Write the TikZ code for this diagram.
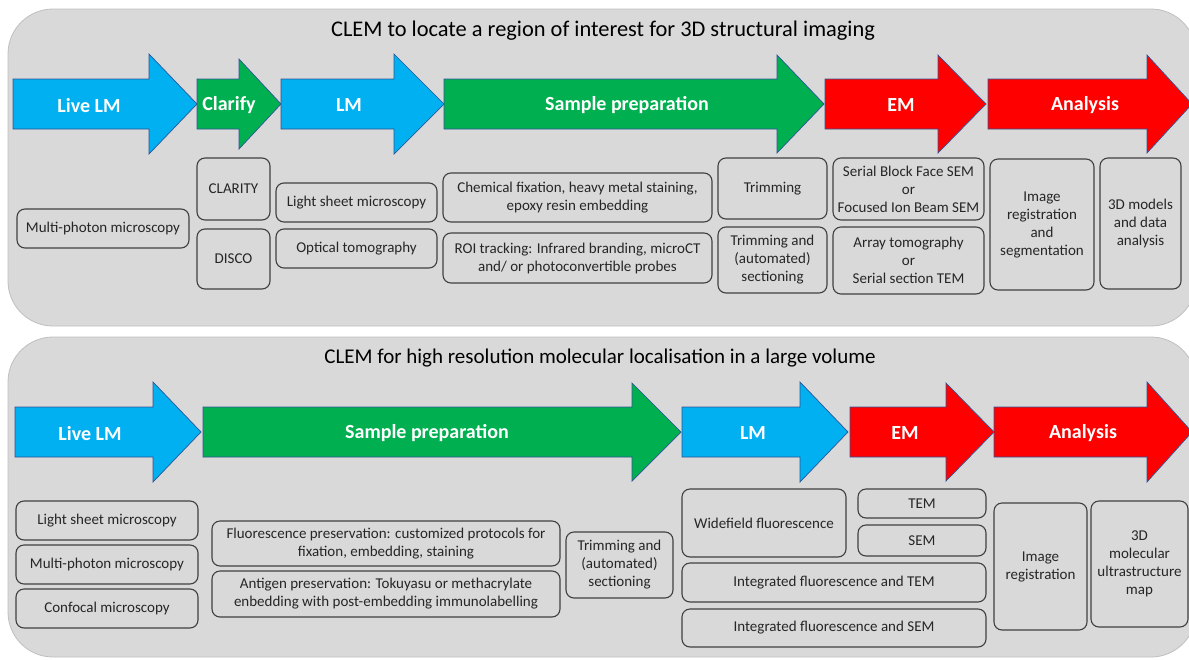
\documentclass[tikz,border=0pt]{standalone}
\usepackage{fontspec}
\setmainfont{Carlito}
\definecolor{panelfill}{HTML}{D9D9D9}
\definecolor{paneldraw}{HTML}{BFBFBF}
\definecolor{boxdraw}{HTML}{404040}
\definecolor{lmblue}{HTML}{00B0F0}
\definecolor{prepgreen}{HTML}{00B050}
\definecolor{emred}{HTML}{FF0000}
\definecolor{arrowedge}{HTML}{2F5597}
\tikzset{
  panel/.style={fill=panelfill, draw=paneldraw, line width=0.8pt, rounded corners=45pt},
  paneltitle/.style={text=black},
  arrowline/.style={draw=arrowedge, line width=0.7pt, line join=miter},
  arrowlabel/.style={font=\fontsize{20}{24}\selectfont\bfseries, text=white, yshift=-1.5pt},
  infobox/.style={draw=boxdraw, line width=1.1pt, rounded corners=8pt, fill=panelfill,
    inner sep=0pt, align=center, font=\fontsize{15}{18}\selectfont, text=black!85}
}
\newcommand{\flowarrow}[9]{%
  % #1 name, #2 colour, #3 shaft start, #4 head base, #5 tip, #6 centre y, #7 head half, #8 label x, #9 label
  \filldraw[arrowline, fill=#2] (#3,#6-25) -- (#4,#6-25) -- (#4,#6-#7) -- (#5,#6)
    -- (#4,#6+#7) -- (#4,#6+25) -- (#3,#6+25) -- cycle;
  \node[arrowlabel] (#1) at (#8,#6) {#9};
}
\newcommand{\infobox}[6]{%
  \node[infobox, minimum width={(#4-#2)*1pt}, minimum height={(#5-#3)*1pt}]
    (#1) at ({(#2+#4)/2},{(#3+#5)/2}) {#6};
}
\begin{document}
\begin{tikzpicture}[x=1pt,y=-1pt]
\useasboundingbox (0,0) rectangle (1189,659);
% panels
\path[panel] (8,9) rectangle (1196,326);
\path[panel] (8,337) rectangle (1196,657);
\node[paneltitle, font=\fontsize{22.4}{26}\selectfont] (t1) at (603,31) {CLEM to locate a region of interest for 3D structural imaging};
\node[paneltitle, font=\fontsize{21}{26}\selectfont] (t2) at (600,358) {CLEM for high resolution molecular localisation in a large volume};
% top arrows
\flowarrow{a1}{lmblue}{13}{149}{197}{104}{50}{89}{Live LM}
\flowarrow{a2}{prepgreen}{197}{239}{281}{104}{45}{229}{Clarify}
\flowarrow{a3}{lmblue}{281}{394}{444}{104}{50}{349}{LM}
\flowarrow{a4}{prepgreen}{444}{777}{824}{104}{49}{627}{Sample preparation}
\flowarrow{a5}{emred}{825}{938}{986}{104}{49}{901}{EM}
\flowarrow{a6}{emred}{988}{1147}{1192}{104}{49}{1085}{Analysis}
% bottom arrows
\flowarrow{b1}{lmblue}{15}{153}{201}{432}{50}{90}{Live LM}
\flowarrow{b2}{prepgreen}{203}{632}{681}{432}{49}{427}{Sample preparation}
\flowarrow{b3}{lmblue}{682}{800}{848}{432}{50}{753}{LM}
\flowarrow{b4}{emred}{850}{946}{994}{432}{49}{905}{EM}
\flowarrow{b5}{emred}{994}{1147}{1192}{432}{50}{1083}{Analysis}
% top boxes
\infobox{mp1}{17}{209}{189}{248}{Multi-photon microscopy}
\infobox{clarity}{197}{158}{270}{220}{CLARITY}
\infobox{disco}{197}{229}{270}{289}{DISCO}
\infobox{ls1}{276}{183}{437}{222}{Light sheet microscopy}
\infobox{ot}{276}{229}{437}{268}{Optical tomography}
\infobox{chem}{443}{173}{712}{222}{Chemical fixation, heavy metal staining,\\ epoxy resin embedding}
\infobox{roi}{443}{233}{712}{283}{ROI tracking: Infrared branding, microCT\\ and/ or photoconvertible probes}
\infobox{trim1}{718}{158}{827}{219}{Trimming}
\infobox{trim2}{718}{227}{827}{293}{Trimming and\\(automated)\\sectioning}
\infobox{sbf}{833}{158}{984}{220}{Serial Block Face SEM\\or\\Focused Ion Beam SEM}
\infobox{arr}{833}{227}{984}{294}{Array tomography\\or\\Serial section TEM}
\infobox{imreg1}{990}{159}{1094}{290}{Image\\registration\\and\\segmentation}
\infobox{models}{1100}{158}{1181}{289}{3D models\\and data\\analysis}
% bottom boxes
\infobox{ls2}{16}{501}{198}{540}{Light sheet microscopy}
\infobox{mp2}{16}{545}{198}{584}{Multi-photon microscopy}
\infobox{conf}{16}{589}{198}{628}{Confocal microscopy}
\infobox{fluo}{212}{521}{560}{566}{Fluorescence preservation: customized protocols for\\fixation, embedding, staining}
\infobox{anti}{212}{571}{560}{617}{Antigen preservation: Tokuyasu or methacrylate\\enbedding with post-embedding immunolabelling}
\infobox{trim3}{566}{532}{673}{598}{Trimming and\\(automated)\\sectioning}
\infobox{wf}{682}{489}{846}{557}{Widefield fluorescence}
\infobox{tem}{858}{489}{986}{518}{TEM}
\infobox{sem}{858}{525}{986}{556}{SEM}
\infobox{iftem}{682}{563}{986}{602}{Integrated fluorescence and TEM}
\infobox{ifsem}{682}{609}{986}{647}{Integrated fluorescence and SEM}
\infobox{imreg2}{994}{503}{1087}{630}{Image\\registration}
\infobox{map}{1091}{501}{1188}{627}{3D\\molecular\\ultrastructure\\map}
\end{tikzpicture}
\end{document}
